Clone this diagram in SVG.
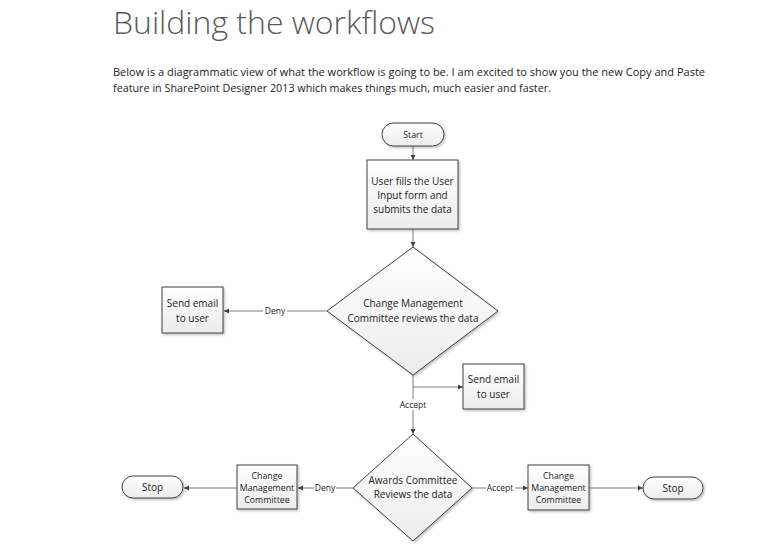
<svg xmlns="http://www.w3.org/2000/svg" width="781" height="544" viewBox="0 0 781 544">
<defs>
<linearGradient id="g" x1="0" y1="0" x2="0" y2="1">
<stop offset="0" stop-color="#ffffff"/>
<stop offset="1" stop-color="#ececec"/>
</linearGradient>
<filter id="sh" x="-10%" y="-10%" width="130%" height="130%">
<feDropShadow dx="1.5" dy="1.5" stdDeviation="1" flood-color="#000" flood-opacity="0.25"/>
</filter>
<marker id="ah" markerWidth="6" markerHeight="6" refX="5" refY="3" orient="auto" markerUnits="userSpaceOnUse">
<path d="M0,0.5 L5,3 L0,5.5 Z" fill="#404040"/>
</marker>
</defs>
<style>
.t{font-family:"Open Sans","Noto Sans",sans-serif}
.shape{fill:url(#g);stroke:#404040;stroke-width:1;filter:url(#sh)}
.n{font-family:"Open Sans","Noto Sans",sans-serif;font-size:10px;fill:#1a1a1a;text-anchor:middle}
.s{font-family:"Open Sans","Noto Sans",sans-serif;font-size:8.8px;fill:#1a1a1a;text-anchor:middle}
.c{stroke:#7f7f7f;stroke-width:1;fill:none;marker-end:url(#ah)}
.lb{font-family:"Open Sans","Noto Sans",sans-serif;font-size:8.5px;fill:#1a1a1a;text-anchor:middle}
</style>
<rect width="781" height="544" fill="#ffffff"/>
<text class="t" x="113" y="34.3" font-size="32" font-weight="300" fill="#5a5a5a" textLength="322" lengthAdjust="spacingAndGlyphs">Building the workflows</text>
<text class="t" x="113" y="76" font-size="11.5" fill="#222" textLength="592" lengthAdjust="spacingAndGlyphs">Below is a diagrammatic view of what the workflow is going to be. I am excited to show you the new Copy and Paste</text>
<text class="t" x="113" y="92" font-size="11.5" fill="#222" textLength="438" lengthAdjust="spacingAndGlyphs">feature in SharePoint Designer 2013 which makes things much, much easier and faster.</text>

<g id="connectors">
<line class="c" x1="413" y1="146" x2="413" y2="160"/>
<line class="c" x1="413" y1="229" x2="413" y2="247"/>
<line class="c" x1="327" y1="311" x2="224" y2="311"/>
<line class="c" x1="413" y1="375" x2="413" y2="434"/>
<line class="c" x1="413" y1="387" x2="463" y2="387"/>
<line class="c" x1="353" y1="488" x2="298" y2="488"/>
<line class="c" x1="237" y1="488" x2="184" y2="488"/>
<line class="c" x1="472" y1="488" x2="528" y2="488"/>
<line class="c" x1="589" y1="488" x2="643" y2="488"/>
<rect x="263" y="305" width="24" height="11" fill="#fff"/>
<text class="lb" x="275" y="314">Deny</text>
<rect x="397" y="399" width="32" height="11" fill="#fff"/>
<text class="lb" x="413" y="408">Accept</text>
<rect x="314" y="482" width="22" height="11" fill="#fff"/>
<text class="lb" x="325" y="491">Deny</text>
<rect x="486" y="482" width="29" height="11" fill="#fff"/>
<text class="lb" x="500" y="491">Accept</text>
</g>

<g id="start">
<rect class="shape" x="382" y="123" width="62" height="23" rx="11.5"/>
<text class="s" x="413" y="137.5">Start</text>
</g>
<g id="user-input">
<rect class="shape" x="367" y="160" width="91" height="69"/>
<text class="n" x="412.5" y="185">User fills the User</text>
<text class="n" x="412.5" y="199">Input form and</text>
<text class="n" x="412.5" y="213">submits the data</text>
</g>
<g id="cm-review">
<polygon class="shape" points="413,247 498,311 413,375 327,311"/>
<text class="n" x="413" y="307">Change Management</text>
<text class="n" x="413" y="322">Committee reviews the data</text>
</g>
<g id="email-deny">
<rect class="shape" x="162" y="287" width="61" height="46"/>
<text class="n" x="192.5" y="307">Send email</text>
<text class="n" x="192.5" y="322">to user</text>
</g>
<g id="email-accept">
<rect class="shape" x="463" y="364" width="61" height="45"/>
<text class="n" x="493.5" y="383">Send email</text>
<text class="n" x="493.5" y="398">to user</text>
</g>
<g id="awards-review">
<polygon class="shape" points="413,434 472,488 413,541 353,488"/>
<text class="n" x="413" y="484">Awards Committee</text>
<text class="n" x="413" y="498">Reviews the data</text>
</g>
<g id="cm-left">
<rect class="shape" x="237" y="465" width="60" height="44"/>
<text class="s" x="267" y="479">Change</text>
<text class="s" x="267" y="491">Management</text>
<text class="s" x="267" y="503">Committee</text>
</g>
<g id="stop-left">
<rect class="shape" x="122" y="476" width="61" height="22" rx="11"/>
<text class="n" x="152.5" y="491">Stop</text>
</g>
<g id="cm-right">
<rect class="shape" x="528" y="465" width="61" height="45"/>
<text class="s" x="558.5" y="479">Change</text>
<text class="s" x="558.5" y="491">Management</text>
<text class="s" x="558.5" y="503">Committee</text>
</g>
<g id="stop-right">
<rect class="shape" x="643" y="477" width="60" height="22" rx="11"/>
<text class="n" x="673" y="492">Stop</text>
</g>
</svg>
